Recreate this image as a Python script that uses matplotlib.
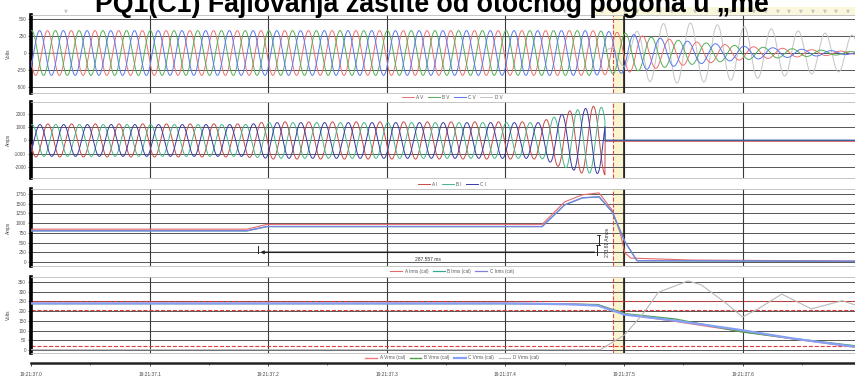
import numpy as np
import matplotlib
matplotlib.use("Agg")
import matplotlib.pyplot as plt

plt.rcParams['font.family'] = ['Liberation Sans', 'DejaVu Sans']

W, H = 855, 378
X_END = 0.6948          # right edge of the visible window, s after 19:21:37.0

# ---------------- data ----------------
tick_times = [0.0, 0.1, 0.2, 0.3, 0.4, 0.5, 0.6]
tick_labels = ["19:21:37.0", "19:21:37.1", "19:21:37.2", "19:21:37.3",
               "19:21:37.4", "19:21:37.5", "19:21:37.6"]
t_trigger = 0.4907

event_times = [0.0295, 0.2293, 0.4309, 0.4406, 0.4503, 0.4604, 0.4815, 0.4907,
               0.5008, 0.5110, 0.5202, 0.5304, 0.5405, 0.5506, 0.5599, 0.5700,
               0.5801, 0.5902, 0.5995, 0.6096, 0.6197, 0.6298, 0.6391, 0.6492,
               0.6594, 0.6695, 0.6788, 0.6889]

# phase voltages: peak envelope and frequency
v_env_t = [0.0, 0.47, 0.485, 0.5, 0.52, 0.55, 0.6, 0.65, 0.695]
v_env = [330, 330, 320, 295, 240, 180, 100, 55, 18]
v_freq_t = [0.0, 0.48, 0.5, 0.53, 0.57, 0.62, 0.695]
v_freq = [50, 50, 47, 44, 42, 41, 40]
vd_env_t = [0.0, 0.478, 0.49, 0.5, 0.52, 0.55, 0.6, 0.65, 0.695]
vd_env = [0, 0, 80, 200, 420, 450, 390, 320, 260]
vd_freq = 44

# phase currents: peak envelope, trip at 0.484 s
i_env_t = [0.0, 0.18, 0.2, 0.43, 0.445, 0.46, 0.47, 0.479, 0.484]
i_env = [1200, 1200, 1350, 1350, 1900, 2300, 2450, 2500, 2500]
t_trip = 0.484
i_after = [-60, 10, 20]

# rms currents
irms_a_t = [0, 0.182, 0.199, 0.431, 0.45, 0.465, 0.479, 0.49, 0.4966, 0.5008, 0.506, 0.557, 0.695]
irms_a = [845, 845, 970, 970, 1550, 1730, 1780, 1340, 770, 230, 100, 50, 25]
irms_bc_t = [0, 0.182, 0.199, 0.431, 0.45, 0.465, 0.479, 0.49, 0.5008, 0.511, 0.695]
irms_b = [800, 800, 910, 910, 1470, 1650, 1675, 1290, 520, 30, 15]
irms_c = [806, 806, 916, 916, 1475, 1655, 1680, 1295, 525, 35, 20]

# rms voltages
vrms_t = [0, 0.40, 0.45, 0.478, 0.501, 0.543, 0.6, 0.642, 0.695]
vrms_a = [241, 241, 238, 232, 185, 148, 95, 58, 15]
vrms_b = [239, 239, 237, 234, 187, 160, 93, 60, 22]
vrms_c = [240, 240, 236, 229, 182, 152, 102, 60, 17]
vrms_d_t = [0, 0.48, 0.50, 0.515, 0.529, 0.554, 0.565, 0.585, 0.60, 0.613,
            0.633, 0.658, 0.684, 0.695]
vrms_d = [2, 2, 76, 178, 297, 356, 336, 246, 170, 212, 288, 212, 254, 232]
vrms_limits = [253, 207, 23]

# ---------------- waveforms ----------------
t = np.linspace(0, X_END, 9000)
dt = t[1] - t[0]
phi = 2 * np.pi * np.cumsum(np.interp(t, v_freq_t, v_freq)) * dt - 2.83
amp_v = np.interp(t, v_env_t, v_env)
va = amp_v * np.sin(phi)
vb = amp_v * np.sin(phi - 2 * np.pi / 3)
vc = amp_v * np.sin(phi + 2 * np.pi / 3)
vd = np.interp(t, vd_env_t, vd_env) * np.sin(2 * np.pi * vd_freq * t - 1.35)

ph_i = 2 * np.pi * 50 * t - 2.9
amp_i = np.interp(t, i_env_t, i_env)
on = t <= t_trip
ia = np.where(on, 1.04 * amp_i * np.sin(ph_i), i_after[0])
ib = np.where(on, amp_i * np.sin(ph_i - 2 * np.pi / 3), i_after[1])
ic = np.where(on, amp_i * np.sin(ph_i + 2 * np.pi / 3), i_after[2])

# ---------------- figure ----------------
fig = plt.figure(figsize=(W / 100, H / 100), dpi=100)
fig.patch.set_facecolor('white')

LEFT = 31 / W
WIDTH = 1 - LEFT


def panel(top, bottom):
    return fig.add_axes([LEFT, 1 - bottom / H, WIDTH, (bottom - top) / H])


def style(ax, ylim, ticks, ylabel):
    ax.set_xlim(0, X_END)
    ax.set_ylim(*ylim)
    ax.set_yticks(ticks)
    ax.set_yticklabels([str(v) for v in ticks], fontsize=3.4, color='#555555')
    ax.set_xticks(tick_times)
    ax.set_xticklabels([])
    ax.tick_params(axis='x', length=0)
    ax.tick_params(axis='y', length=2, width=0.5, pad=1.5, color='#333333')
    ax.minorticks_on()
    ax.tick_params(axis='y', which='minor', length=1.5, width=0.4)
    ax.tick_params(axis='x', which='minor', length=0)
    for v in ticks:
        ax.axhline(v, color='#555555', lw=0.7, zorder=1)
    for tt in tick_times:
        ax.axvline(tt, color='#3a3a3a', lw=0.8, zorder=1)
    ax.axvspan(t_trigger, 0.5, color='#fbf5cf', zorder=0)
    ax.axvline(t_trigger, color='#e04848', lw=0.8, ls='--', zorder=1)
    ax.axvline(0.5, color='#222222', lw=1.2, zorder=1)
    ax.spines['left'].set_linewidth(2.6)
    ax.spines['left'].set_color('black')
    for s in ('top', 'bottom', 'right'):
        ax.spines[s].set_color('#bbbbbb')
        ax.spines[s].set_linewidth(0.6)
    pos = ax.get_position()
    fig.text(8 / W, (pos.y0 + pos.y1) / 2, ylabel, rotation=90, fontsize=3.4,
             color='#444444', ha='center', va='center')


def legend(ax, y_px):
    leg = ax.legend(loc='center', bbox_to_anchor=(452 / W, 1 - y_px / H),
                    bbox_transform=fig.transFigure, ncol=4, frameon=False,
                    fontsize=3.3, handlelength=2.6, handletextpad=0.5,
                    columnspacing=1.0, borderaxespad=0)
    for txt in leg.get_texts():
        txt.set_color('#555555')


# panel 1: phase voltages
ax1 = panel(15, 93)
style(ax1, (-590, 560), [500, 250, 0, -250, -500], 'Volts')
ax1.plot(t, va, color='#ee7070', lw=0.7, label='A V', zorder=3)
ax1.plot(t, vb, color='#55b055', lw=0.7, label='B V', zorder=3)
ax1.plot(t, vc, color='#5a78f0', lw=0.7, label='C V', zorder=3)
ax1.plot(t, vd, color='#c4c4c4', lw=0.7, label='D V', zorder=2)
legend(ax1, 97.5)

# panel 2: phase currents
ax2 = panel(102, 178)
style(ax2, (-2830, 2900), [2000, 1000, 0, -1000, -2000], 'Amps')
ax2.plot(t, ia, color='#c84848', lw=0.7, label='A I', zorder=3)
ax2.plot(t, ib, color='#45b78a', lw=0.7, label='B I', zorder=3)
ax2.plot(t, ic, color='#3a3aa8', lw=0.7, label='C I', zorder=3)
legend(ax2, 184)

# panel 3: rms currents
ax3 = panel(189, 266)
style(ax3, (-103, 1880), [1750, 1500, 1250, 1000, 750, 500, 250, 0], 'Amps')
ax3.plot(irms_a_t, irms_a, color='#e46a6a', lw=0.8, label='A Irms (cal)', zorder=3)
ax3.plot(irms_bc_t, irms_b, color='#3aa88e', lw=0.9, label='B Irms (cal)', zorder=3)
ax3.plot(irms_bc_t, irms_c, color='#7f7fe6', lw=0.9, label='C Irms (cal)', zorder=3)
# measurement cursors
ax3.plot([0.191, 0.191], [232, 420], color='#222222', lw=0.7, zorder=4)
ax3.annotate('', xy=(0.191, 250), xytext=(0.4775, 250),
             arrowprops=dict(arrowstyle='-|>', color='#222222', lw=1.1,
                             mutation_scale=4), zorder=4)
ax3.text(0.335, 75, '287.557 ms', fontsize=3.6, color='#333333',
         ha='center', va='center', zorder=5)
ax3.plot([0.4775, 0.4775], [180, 438], color='#222222', lw=0.7, zorder=4)
ax3.plot([0.4790, 0.4790], [438, 696], color='#222222', lw=0.7, zorder=4)
ax3.plot([0.4765, 0.4800], [438, 438], color='#222222', lw=0.6, zorder=4)
ax3.plot([0.4775, 0.4800], [696, 696], color='#222222', lw=0.6, zorder=4)
ax3.text(0.4857, 503, '273.81 Amps', rotation=90, fontsize=3.6, color='#333333',
         ha='center', va='center', zorder=5)
legend(ax3, 271)

# panel 4: rms voltages
ax4 = panel(277, 353)
style(ax4, (-15, 376), [350, 300, 250, 200, 150, 100, 50, 0], 'Volts')
for lim in vrms_limits:
    ax4.axhline(lim, color='#e03c3c', lw=0.8, ls='--', zorder=2)
ax4.plot(vrms_t, vrms_a, color='#f07878', lw=1.0, label='A Vrms (cal)', zorder=3)
ax4.plot(vrms_t, vrms_b, color='#4aa04a', lw=1.0, label='B Vrms (cal)', zorder=3)
ax4.plot(vrms_t, vrms_c, color='#86a0f4', lw=1.6, label='C Vrms (cal)', zorder=3)
ax4.plot(vrms_d_t, vrms_d, color='#b8b8b8', lw=0.8, label='D Vrms (cal)', zorder=3)
legend(ax4, 358)

# time axis
axt = fig.add_axes([LEFT, 1 - 363 / H, WIDTH, 0.0001])
axt.set_xlim(0, X_END)
axt.set_yticks([])
for s in ('top', 'left', 'right'):
    axt.spines[s].set_visible(False)
axt.spines['bottom'].set_linewidth(1.8)
axt.spines['bottom'].set_color('#222222')
axt.set_xticks(tick_times)
axt.set_xticklabels(tick_labels, fontsize=3.4, color='#444444')
axt.set_xticks([0.05, 0.15, 0.25, 0.35, 0.45, 0.55, 0.65], minor=True)
axt.tick_params(axis='x', which='major', length=2.5, width=0.5, pad=4)
axt.tick_params(axis='x', which='minor', length=1.5, width=0.4)

# event markers strip above the top panel
axe = fig.add_axes([LEFT, 1 - 15 / H, WIDTH, 8 / H])
axe.set_xlim(0, X_END)
axe.set_ylim(0, 1)
axe.axis('off')
axe.axvspan(0.4745, X_END, color='#fbf7dc', zorder=0)
ev_col = ['#a01818' if abs(e - t_trigger) < 1e-4 else '#b0b0b0' for e in event_times]
axe.scatter(event_times, [0.45] * len(event_times), marker='v', s=3.5,
            facecolors='none', edgecolors=ev_col, linewidths=0.5, zorder=2)

# title, cut off at the top edge like in the source image
fig.text(432 / W, 1 - 12 / H, 'PQ1(C1) Fajlovanja zaštite od otočnog pogona u „me',
         fontsize=19.3, fontweight='bold', ha='center', va='baseline', color='black',
         zorder=5)

fig.savefig('out.png', dpi=100)
